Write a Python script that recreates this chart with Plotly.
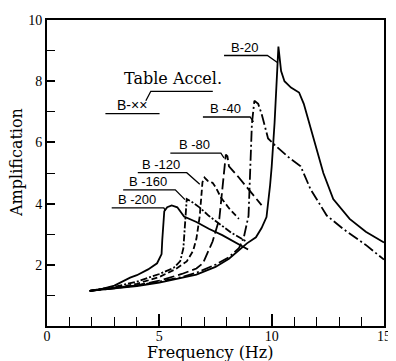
import plotly.graph_objects as go

# ---- data ----
b20_freq = [1.9, 3.0, 4.0, 5.0, 6.0, 6.65, 7.5, 8.1, 8.9, 9.3, 9.55, 9.77, 9.93, 10.0, 10.13, 10.25, 10.3, 10.42, 10.57, 10.86, 11.22, 11.43, 11.87, 12.3, 12.74, 13.47, 14.19, 15.0]
b20_amp = [1.15, 1.22, 1.3, 1.42, 1.57, 1.68, 1.93, 2.2, 2.7, 2.9, 3.2, 3.56, 4.6, 5.2, 6.65, 8.65, 9.13, 8.33, 8.0, 7.79, 7.63, 7.26, 6.08, 5.0, 4.15, 3.5, 3.08, 2.73]

b40_freq = [1.9, 3.0, 4.0, 5.0, 6.0, 6.65, 7.52, 8.1, 8.54, 8.75, 8.9, 8.97, 9.04, 9.12, 9.23, 9.4, 9.55, 9.84, 10.13, 10.71, 11.29, 11.73, 12.45, 13.17, 14.19, 15.0]
b40_amp = [1.15, 1.24, 1.33, 1.45, 1.6, 1.74, 2.01, 2.25, 2.54, 2.86, 3.3, 3.6, 5.0, 6.61, 7.36, 7.26, 6.94, 6.13, 5.92, 5.54, 5.22, 4.47, 3.61, 3.18, 2.65, 2.17]

b80_freq = [1.9, 3.0, 4.0, 5.0, 6.0, 6.65, 6.94, 7.37, 7.67, 7.8, 7.9, 7.96, 8.03, 8.1, 8.53, 9.0, 9.55]
b80_amp = [1.15, 1.23, 1.33, 1.48, 1.7, 1.88, 2.05, 2.76, 3.5, 4.5, 5.3, 5.6, 5.55, 5.22, 4.86, 4.45, 3.95]

b120_freq = [1.9, 3.0, 4.0, 5.0, 5.7, 6.22, 6.5, 6.65, 6.8, 6.86, 6.92, 7.01, 7.1, 7.16, 7.37, 7.52, 7.74, 8.1, 8.54]
b120_amp = [1.15, 1.25, 1.38, 1.6, 1.85, 2.11, 2.45, 2.85, 3.6, 4.3, 4.7, 4.85, 4.8, 4.74, 4.68, 4.52, 4.2, 3.85, 3.5]

b160_freq = [1.9, 3.0, 4.0, 5.0, 5.64, 5.93, 6.07, 6.12, 6.17, 6.22, 6.4, 6.8, 7.2, 7.67, 8.2, 8.83]
b160_amp = [1.15, 1.28, 1.45, 1.7, 1.9, 2.12, 2.54, 3.2, 3.9, 4.15, 4.08, 3.87, 3.6, 3.34, 3.05, 2.78]

b200_freq = [1.9, 2.5, 3.0, 3.7, 4.0, 4.5, 4.9, 5.1, 5.13, 5.17, 5.22, 5.35, 5.55, 5.8, 6.1, 6.65, 7.2, 7.8, 8.4, 8.95]
b200_amp = [1.15, 1.22, 1.32, 1.58, 1.66, 1.85, 2.05, 2.35, 2.8, 3.4, 3.75, 3.88, 3.94, 3.88, 3.58, 3.4, 3.18, 2.97, 2.72, 2.5]

series_names = ["B-20", "B -40", "B -80", "B -120", "B -160", "B -200"]
x_tick_vals = [0, 5, 10, 15]
y_tick_vals = [2, 4, 6, 8, 10]

# ---- styles / label placement (not data) ----
series = [
    (b20_freq, b20_amp, "solid"),
    (b40_freq, b40_amp, "11px,3px,2px,3px"),
    (b80_freq, b80_amp, "11px,4px"),
    (b120_freq, b120_amp, "6px,3px"),
    (b160_freq, b160_amp, "7px,2px,2px,2px"),
    (b200_freq, b200_amp, "solid"),
]
# leader lines: (x0, x1, x2, y_line, y_end)
leaders = [
    (7.88, 9.81, 10.27, 8.84, 8.6),
    (6.94, 9.04, 9.19, 6.83, 6.67),
    (5.49, 7.74, 7.88, 5.65, 5.49),
    (4.04, 6.22, 6.80, 5.01, 4.63),
    (3.39, 5.71, 6.14, 4.45, 4.13),
    (2.88, 5.20, 5.27, 3.86, 3.77),
]

SERIF = "DejaVu Serif, serif"
SANS = "Liberation Sans, Arial, sans-serif"

fig = go.Figure()
for (fx, fy, dash), name in zip(series, series_names):
    fig.add_trace(go.Scatter(x=fx, y=fy, mode="lines", name=name,
                             line=dict(color="black", width=1.8, dash=dash),
                             showlegend=False, hoverinfo="skip"))

annotations = []
shapes = []
for (x0, x1, x2, yl, ye), name in zip(leaders, series_names):
    shapes.append(dict(type="path", xref="x", yref="y",
                       path=f"M {x0},{yl} L {x1},{yl} L {x2},{ye}",
                       line=dict(color="black", width=1.3)))
    annotations.append(dict(x=(x0 + x1) / 2 - 0.05, y=yl, xref="x", yref="y",
                            text=name, showarrow=False, yanchor="bottom",
                            xanchor="center", yshift=-1,
                            font=dict(family=SANS, size=13, color="black")))

# legend-like key: Table Accel.
shapes.append(dict(type="path", xref="x", yref="y",
                   path="M 4.40,7.36 L 4.62,7.67 L 7.38,7.67",
                   line=dict(color="black", width=1.3)))
shapes.append(dict(type="line", xref="x", yref="y", x0=2.6, x1=5.01, y0=6.94, y1=6.94,
                   line=dict(color="black", width=1.3)))
annotations.append(dict(x=5.61, y=7.67, xref="x", yref="y", text="Table Accel.",
                        showarrow=False, yanchor="bottom", xanchor="center", yshift=1,
                        font=dict(family=SERIF, size=16, color="black")))
annotations.append(dict(x=3.8, y=6.94, xref="x", yref="y", text="B-××",
                        showarrow=False, yanchor="bottom", xanchor="center", yshift=-1,
                        font=dict(family=SANS, size=14, color="black")))

# axis titles
annotations.append(dict(x=-0.09, y=0.535, xref="paper", yref="paper", text="Amplification",
                        textangle=-90, showarrow=False, xanchor="center", yanchor="middle",
                        font=dict(family=SERIF, size=16, color="black")))
annotations.append(dict(x=0.485, y=-0.085, xref="paper", yref="paper", text="Frequency (Hz)",
                        showarrow=False, xanchor="center", yanchor="middle",
                        font=dict(family=SERIF, size=16, color="black")))

# the page body has an 8px margin, so the figure is sized to end at the window edge
fig.update_layout(
    width=388, height=353,
    margin=dict(l=39, r=5, t=7, b=35),
    plot_bgcolor="white", paper_bgcolor="white",
    shapes=shapes, annotations=annotations,
    xaxis=dict(range=[0, 15], tickvals=x_tick_vals, ticks="inside", ticklen=12,
               tickwidth=1.5, tickcolor="black", showgrid=False, zeroline=False,
               showline=True, linecolor="black", linewidth=2, mirror=True,
               ticklabelstandoff=-4, ticklabeloverflow="allow",
               minor=dict(dtick=1, ticks="inside", ticklen=9, tickwidth=1.3, tickcolor="black", showgrid=False),
               tickfont=dict(family="Liberation Serif, serif", size=14, color="black")),
    yaxis=dict(range=[0, 10], tickvals=y_tick_vals, ticks="inside", ticklen=8,
               tickwidth=1.5, tickcolor="black", showgrid=False, zeroline=False,
               showline=True, linecolor="black", linewidth=2, mirror=True,
               ticklabeloverflow="allow",
               minor=dict(dtick=1, ticks="inside", ticklen=8, tickwidth=1.3, tickcolor="black", showgrid=False),
               tickfont=dict(family="Liberation Serif, serif", size=14, color="black")),
)

fig.write_html("out.html")
